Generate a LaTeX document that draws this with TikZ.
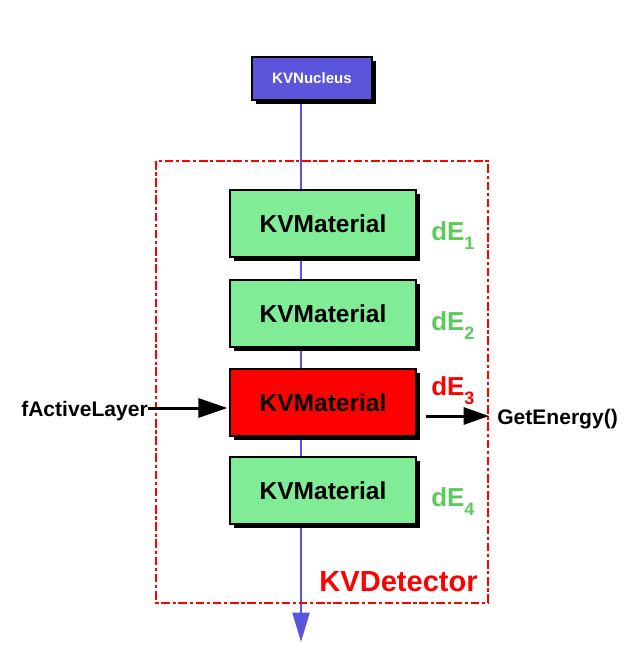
\documentclass[tikz,border=0pt]{standalone}
\usepackage{fontspec}
\setmainfont{Liberation Sans}
\usetikzlibrary{arrows.meta,shadows,backgrounds}
\definecolor{nucblue}{HTML}{5B55DB}
\definecolor{matgreen}{HTML}{80EC96}
\definecolor{labgreen}{HTML}{5CCB5C}
\definecolor{detred}{HTML}{FF0000}
\tikzset{
  x=0.75pt, y=-0.75pt,
  shad/.style={drop shadow={shadow xshift=3pt, shadow yshift=-3pt, fill=black, opacity=1}},
  matbox/.style={draw=black, line width=0.9pt, fill=matgreen, minimum width=139.5pt, minimum height=50.25pt, shad,
    font=\fontsize{18.4}{20}\selectfont\bfseries, inner sep=0pt},
  nucbox/.style={draw=black, line width=0.9pt, fill=nucblue, minimum width=90pt, minimum height=32.25pt, shad,
    text=white, font=\fontsize{11.3}{13}\selectfont\bfseries, inner sep=0pt},
  delab/.style={anchor=base west, font=\fontsize{19.5}{22}\selectfont\bfseries, inner sep=0pt},
  calltxt/.style={font=\fontsize{15.8}{18}\selectfont\bfseries, inner sep=0pt},
  bigarrow/.style={line width=2.25pt, -{Triangle[length=21.75pt, width=14.25pt]}},
  smallarrow/.style={line width=2.25pt, -{Triangle[length=19pt, width=12.75pt]}},
}
\newcommand{\subd}[1]{\raisebox{-7pt}{\fontsize{13.5}{15}\selectfont #1}}
\begin{document}
\begin{tikzpicture}
\useasboundingbox (0,0) rectangle (627,663);
% detector frame
\draw[detred, line width=1.7pt, dash pattern=on 6.5pt off 2pt on 2.4pt off 2pt] (156,161) rectangle (488,603);
% nucleus
\node[nucbox] (nuc) at (312,78.5) {KVNucleus};
% materials
\node[matbox] (m1) at (323,223.5) {KVMaterial};
\node[matbox] (m2) at (323,313.5) {KVMaterial};
\node[matbox, fill=detred] (m3) at (323,402.5) {KVMaterial};
\node[matbox] (m4) at (323,490.5) {KVMaterial};
% trajectory
\coordinate (tip) at (301,642);
\begin{scope}[on background layer]
\draw[nucblue, line width=1.5pt, -{Triangle[length=22pt, width=12.75pt]}] (nuc.south -| tip) -- (tip);
\end{scope}
% energy labels
\node[delab, text=labgreen] (d1) at (431,240) {dE\subd{1}};
\node[delab, text=labgreen] (d2) at (431,330) {dE\subd{2}};
\node[delab, text=detred] (d3) at (431,395) {dE\subd{3}};
\node[delab, text=labgreen] (d4) at (431,506) {dE\subd{4}};
% detector label
\node[anchor=base east, text=detred, font=\fontsize{21.8}{24}\selectfont\bfseries, inner sep=0pt] (det) at (478,591) {KVDetector};
% active layer / get energy
\node[calltxt, anchor=base east] (fal) at (148,416) {fActiveLayer};
\node[calltxt, anchor=base west] (ge) at (497,424) {GetEnergy()};
\coordinate (gs) at (426,416);
\draw[bigarrow] (fal.east |- 0,408) -- ([xshift=-1.5pt]m3.west |- 0,408);
\draw[smallarrow] (gs) -- ([xshift=-6pt]gs -| ge.west);
\end{tikzpicture}
\end{document}
